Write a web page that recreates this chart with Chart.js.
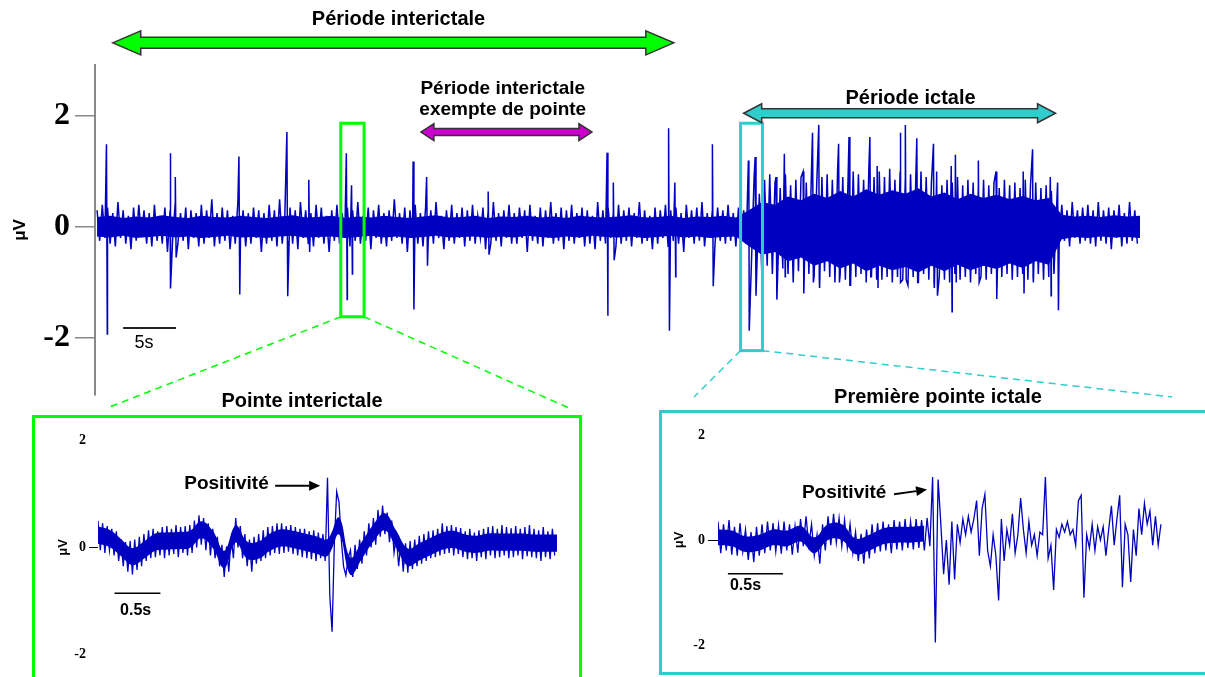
<!DOCTYPE html>
<html>
<head>
<meta charset="utf-8">
<script src="https://cdn.jsdelivr.net/npm/chart.js@4"></script>
<style>
  html, body { margin: 0; padding: 0; background: #fff; }
  #page { position: relative; width: 1205px; height: 677px; overflow: hidden; }
  canvas { position: absolute; }
  .box { position: absolute; box-sizing: border-box; border: 3px solid; }
</style>
</head>
<body>
<div id="page">
  <canvas id="mainChart" width="1205" height="677" style="left:0;top:0"></canvas>
  <div class="box" style="left:32px;top:415px;width:550px;height:275px;border-color:#00ff00"></div>
  <div class="box" style="left:659px;top:410px;width:560px;height:265px;border-color:#33cccc"></div>
  <canvas id="leftChart" width="541" height="259" style="left:36px;top:418px"></canvas>
  <canvas id="rightChart" width="539" height="260" style="left:663px;top:413px"></canvas>
</div>
<script>
const SANS = '"Liberation Sans", Arial, sans-serif';
const SERIF = '"Liberation Serif", "Times New Roman", serif';
const TRACE = '#0000c0';

// tracé principal : une valeur toutes les 0,25 s (µV), 0 à 100 s
const mainStep = 0.25;
const mainTrace = [
  0.3,-0.25,0.4,-0.2,0.35,-0.3,0.25,-0.35,0.45,-0.2,0.3,-0.3,0.2,-0.4,0.35,-0.25,0.4,-0.15,0.3,-0.3,
  0.25,-0.35,0.4,-0.25,0.2,-0.3,0.35,-0.45,0.3,-0.2,0.45,-0.3,0.25,-0.25,0.35,-0.4,0.3,-0.2,0.25,-0.35,
  0.4,-0.3,0.3,-0.2,0.5,-0.35,0.25,-0.3,0.35,-0.25,0.3,-0.4,0.2,-0.3,0.45,-0.2,0.3,-0.35,0.25,-0.3,
  0.35,-0.2,0.3,-0.45,0.25,-0.3,0.4,-0.25,0.3,-0.35,0.5,-0.3,0.2,-0.25,0.35,-0.3,0.3,-0.4,0.45,-0.2,
  0.3,-0.3,0.25,-0.35,0.4,-0.2,0.35,-0.3,0.2,-0.45,0.3,-0.25,0.4,-0.3,0.25,-0.2,0.35,-0.35,0.3,-0.25,
  0.45,-0.3,0.2,-0.25,0.35,-0.4,0.3,-0.2,0.4,-0.3,0.25,-0.35,0.3,-0.25,0.5,-0.2,0.25,-0.3,0.35,-0.45,
  0.3,-0.2,0.4,-0.3,0.25,-0.35,0.35,-0.25,0.3,-0.3,0.45,-0.2,0.2,-0.4,0.3,-0.25,0.4,-0.3,0.25,-0.2,
  0.35,-0.35,0.3,-0.25,0.4,-0.3,0.2,-0.2,0.35,-0.4,0.3,-0.3,0.45,-0.25,0.25,-0.35,0.3,-0.2,0.4,-0.3,
  0.25,-0.3,0.35,-0.2,0.3,-0.45,0.4,-0.25,0.2,-0.3,0.35,-0.35,0.3,-0.2,0.45,-0.3,0.25,-0.25,0.35,-0.4,
  0.3,-0.25,0.4,-0.3,0.25,-0.2,0.35,-0.35,0.3,-0.3,0.2,-0.4,0.45,-0.25,0.3,-0.3,0.35,-0.2,0.25,-0.35,
  0.4,-0.3,0.3,-0.25,0.35,-0.35,0.25,-0.2,0.45,-0.3,0.3,-0.25,0.2,-0.4,0.35,-0.3,0.3,-0.2,0.4,-0.35,
  0.3,-0.25,0.35,-0.3,0.25,-0.45,0.4,-0.2,0.3,-0.3,0.35,-0.25,0.45,-0.35,0.25,-0.2,0.3,-0.3,0.35,-0.25,
  0.3,-0.3,0.4,-0.25,0.25,-0.35,0.35,-0.2,0.3,-0.3,0.7,-0.6,0.9,-0.8,0.6,-0.9,0.85,-0.7,0.95,-0.85,
  0.8,-0.9,0.7,-0.75,0.95,-0.85,0.75,-1.0,0.85,-0.8,0.9,-0.95,0.8,-0.85,1.0,-0.9,0.75,-0.95,0.9,-0.8,
  0.95,-0.9,0.85,-1.0,1.0,-0.85,0.9,-0.95,0.8,-1.05,1.0,-0.9,0.95,-0.85,0.85,-1.0,1.05,-0.9,0.9,-0.95,
  1.0,-0.95,0.9,-0.9,1.05,-1.0,0.85,-0.9,1.0,-0.95,0.9,-1.05,0.95,-0.9,0.85,-1.0,1.0,-0.85,0.9,-0.95,
  0.8,-1.0,0.9,-0.9,0.75,-0.95,0.85,-1.0,0.8,-0.85,0.9,-0.95,0.75,-0.9,0.85,-1.0,0.8,-0.85,0.7,-0.9,
  0.85,-0.95,0.75,-0.85,0.8,-1.0,0.7,-0.9,0.85,-0.85,0.75,-0.95,0.8,-0.9,0.7,-0.85,0.85,-0.95,0.75,-0.9,
  0.8,-0.85,0.7,-0.95,0.75,-0.9,0.65,-0.85,0.35,-0.3,0.4,-0.25,0.3,-0.35,0.45,-0.2,0.3,-0.3,0.35,-0.25,
  0.4,-0.3,0.3,-0.35,0.45,-0.25,0.3,-0.3,0.35,-0.4,0.3,-0.2,0.4,-0.35,0.25,-0.3,0.45,-0.25,0.3,-0.3
];

// pointes : [temps (s), sommet, creux]
const mainSpikes = [
  [0.9, 1.49, -1.93], [7.0, 1.33, -1.11], [7.5, 0.9, -0.55], [13.6, 1.27, -1.22],
  [18.2, 1.71, -1.25], [20.3, 0.85, -0.45], [23.9, 1.33, -1.31], [24.4, 0.75, -0.85],
  [30.3, 1.18, -1.49], [31.6, 0.9, -0.7], [37.5, 0.64, -0.5], [48.9, 1.34, -1.6],
  [49.5, 0.8, -0.6], [54.8, 1.78, -1.87], [55.4, 0.8, -0.9], [59.0, 1.49, -1.07],
  [62.45, 1.2, -1.87], [63.1, 1.26, -1.24], [65.1, 0.9, -1.31], [65.9, 1.32, -0.9],
  [67.7, 1.0, -1.2], [68.6, 1.7, -1.0], [69.2, 1.84, -1.1], [71.1, 1.5, -1.0],
  [72.1, 1.62, -1.05], [74.1, 1.62, -0.9], [74.8, 1.1, -1.1], [77.0, 1.7, -1.0],
  [77.5, 1.84, -0.95], [78.6, 1.6, -1.0], [80.2, 1.5, -1.1], [80.5, 1.0, -1.24],
  [81.9, 1.1, -1.53], [82.3, 1.3, -1.0], [84.5, 1.2, -1.0], [86.2, 1.0, -1.3],
  [88.8, 1.0, -1.2], [89.7, 1.4, -1.0], [91.4, 0.9, -1.24], [92.1, 0.8, -1.5]
];

// enveloppe du coeur dense du tracé principal, toutes les 1,25 s
const mainCoreStep = 1.25;
const mainCoreTop = [
  0.18,0.2,0.16,0.19,0.17,0.21,0.18,0.16,0.2,0.18,
  0.17,0.2,0.18,0.16,0.19,0.21,0.17,0.18,0.2,0.16,
  0.19,0.17,0.2,0.18,0.16,0.19,0.21,0.17,0.18,0.2,
  0.16,0.19,0.18,0.2,0.17,0.19,0.16,0.2,0.18,0.17,
  0.19,0.21,0.17,0.18,0.2,0.16,0.19,0.18,0.2,0.17,
  0.3,0.45,0.4,0.55,0.48,0.6,0.52,0.65,0.55,0.68,0.58,0.66,
  0.6,0.7,0.55,0.62,0.5,0.6,0.52,0.58,0.5,0.56,0.48,0.52,
  0.22,0.19,0.2,0.18,0.21,0.19,0.2
];
const mainCoreBottom = [
  -0.17,-0.19,-0.16,-0.2,-0.18,-0.16,-0.19,-0.17,-0.2,-0.18,
  -0.16,-0.19,-0.18,-0.2,-0.17,-0.16,-0.19,-0.18,-0.17,-0.2,
  -0.18,-0.16,-0.19,-0.17,-0.2,-0.18,-0.16,-0.19,-0.18,-0.17,
  -0.2,-0.17,-0.19,-0.16,-0.18,-0.2,-0.17,-0.19,-0.16,-0.18,
  -0.19,-0.17,-0.2,-0.18,-0.16,-0.19,-0.17,-0.2,-0.18,-0.17,
  -0.35,-0.5,-0.45,-0.62,-0.55,-0.7,-0.62,-0.75,-0.66,-0.8,-0.7,-0.78,
  -0.72,-0.82,-0.7,-0.8,-0.68,-0.78,-0.7,-0.76,-0.66,-0.74,-0.62,-0.68,
  -0.22,-0.18,-0.2,-0.17,-0.19,-0.18,-0.2
];

// encart gauche "Pointe interictale" : 0,025 s par valeur, 0 à 5 s
const leftStep = 0.025;
const leftTrace = [
  0.5,-0.05,0.45,-0.1,0.4,-0.05,0.35,-0.15,0.3,-0.25,
  0.15,-0.35,0.1,-0.45,0.12,-0.5,0.15,-0.42,0.2,-0.35,
  0.25,-0.25,0.32,-0.2,0.35,-0.18,0.3,-0.15,0.38,-0.2,
  0.4,-0.15,0.35,-0.12,0.42,-0.18,0.38,-0.1,0.4,-0.15,
  0.42,-0.1,0.5,0.0,0.6,0.05,0.55,-0.05,0.45,-0.15,
  0.35,-0.2,0.2,-0.35,0.05,-0.55,0.02,-0.45,0.2,-0.2,
  0.55,0.0,0.4,-0.2,0.25,-0.35,0.15,-0.45,0.2,-0.3,
  0.25,-0.25,0.32,-0.2,0.38,-0.15,0.4,-0.1,0.45,-0.12,
  0.45,-0.1,0.4,-0.08,0.42,-0.12,0.38,-0.15,0.35,-0.18,
  0.35,-0.2,0.3,-0.22,0.32,-0.25,0.28,-0.2,0.25,-0.25,
  1.3,-0.9,-1.57,0.1,1.04,0.85,0.15,-0.35,-0.52,-0.2,
  -0.05,-0.55,0.05,-0.4,0.15,-0.3,0.3,-0.15,0.45,0.0,
  0.55,0.05,0.7,0.2,0.78,0.25,0.65,0.1,0.5,-0.1,
  0.2,-0.35,0.1,-0.45,0.08,-0.47,0.12,-0.4,0.15,-0.35,
  0.22,-0.3,0.25,-0.25,0.3,-0.2,0.32,-0.18,0.35,-0.15,
  0.45,-0.12,0.4,-0.1,0.42,-0.15,0.38,-0.12,0.36,-0.18,
  0.3,-0.22,0.35,-0.2,0.28,-0.25,0.32,-0.18,0.35,-0.22,
  0.38,-0.15,0.4,-0.2,0.35,-0.18,0.42,-0.15,0.38,-0.2,
  0.36,-0.18,0.4,-0.15,0.35,-0.22,0.38,-0.16,0.42,-0.18,
  0.35,-0.2,0.32,-0.25,0.38,-0.18,0.3,-0.22,0.35,-0.15
];
const leftCoreStep = 0.125;
const leftCoreTop = [
  0.39,0.33,0.16,-0.01,0.11,0.26,0.28,0.29,0.31,0.49,0.31,-0.06,0.41,0.11,0.11,0.26,0.34,0.31,0.26,0.21,
  0.16,0.56,-0.19,0.11,0.43,0.64,0.31,-0.02,0.08,0.18,0.28,0.31,0.24,0.22,0.26,0.26,0.26,0.26,0.24,0.24,0.24
];
const leftCoreBottom = [
  0.07,0.01,-0.16,-0.33,-0.21,-0.06,-0.04,-0.03,-0.01,0.17,-0.01,-0.38,0.09,-0.21,-0.21,-0.06,0.02,-0.01,-0.06,-0.11,
  -0.16,0.24,-0.51,-0.21,0.11,0.32,-0.01,-0.34,-0.24,-0.14,-0.04,-0.01,-0.08,-0.1,-0.06,-0.06,-0.06,-0.06,-0.08,-0.08,-0.08
];

// encart droit "Première pointe ictale" : 0,025 s par valeur
const rightStep = 0.025;
const rightTrace = [
  0.35,-0.25,0.3,-0.2,0.38,-0.28,0.25,-0.3,0.32,-0.22,
  0.2,-0.38,0.15,-0.42,0.25,-0.3,0.3,-0.25,0.35,-0.2,
  0.32,-0.22,0.28,-0.26,0.35,-0.2,0.3,-0.28,0.26,-0.24,
  0.4,-0.12,0.45,-0.1,0.3,-0.3,0.1,-0.45,0.3,-0.2,
  0.45,-0.1,0.5,-0.05,0.42,-0.12,0.38,-0.15,0.3,-0.25,
  0.15,-0.4,0.12,-0.45,0.2,-0.35,0.3,-0.25,0.32,-0.22,
  0.35,-0.2,0.3,-0.25,0.38,-0.18,0.35,-0.2,0.4,-0.15,
  0.35,-0.18,0.4,-0.15,0.38,-0.2,0.42,-0.12,1.2,-1.95,
  1.15,0.3,-0.65,0.0,-0.85,0.35,-0.75,0.3,-0.05,0.4,
  0.1,0.45,0.15,0.4,0.75,-0.3,0.6,0.87,-0.2,-0.5,
  0.1,-0.3,-1.15,0.4,-0.4,0.2,-0.1,0.5,-0.25,0.1,
  0.8,0.2,-0.25,0.35,-0.1,0.1,-0.3,0.15,0.1,1.2,
  -0.35,-0.1,-0.95,0.2,0.05,0.3,0.15,0.35,0.1,0.2,
  -0.1,0.75,0.85,-1.1,0.1,-0.15,0.3,-0.2,0.25,0.0,
  0.25,-0.3,0.2,0.65,-0.1,0.4,0.85,-0.9,0.3,0.1,
  -0.8,0.2,-0.3,0.6,0.1,0.7,0.3,0.55,-0.1,0.45,
  -0.1,0.3
];
const rightCoreStep = 0.125;
const rightCoreTop = [0.2,0.18,0.07,0.1,0.2,0.18,0.27,0.05,0.3,0.3,0.03,0.1,0.22,0.25,0.25,0.27];
const rightCoreBottom = [-0.1,-0.12,-0.23,-0.2,-0.1,-0.12,-0.03,-0.25,0.0,0.0,-0.27,-0.2,-0.08,-0.05,-0.05,-0.03];

const mainTicks = [-2, 0, 2];
const insetTicks = [-2, 0, 2];

function toPoints(values, step) {
  return values.map((v, i) => ({ x: i * step, y: v }));
}

const mainPoints = toPoints(mainTrace, mainStep);
mainSpikes.forEach(([t, up, down]) => {
  mainPoints.push({ x: t, y: up }, { x: t + 0.08, y: down });
});
mainPoints.sort((a, b) => a.x - b.x);

function traceDatasets(points, coreTop, coreBottom, coreStep, smooth, width) {
  const clear = 'rgba(0,0,0,0)';
  return [
    { data: points, borderColor: TRACE, borderWidth: width, pointRadius: 0, tension: 0, fill: false },
    { data: toPoints(coreTop, coreStep), borderColor: clear, borderWidth: 1, pointRadius: 0,
      tension: smooth, fill: false },
    { data: toPoints(coreBottom, coreStep), borderColor: clear, borderWidth: 1, pointRadius: 0,
      tension: smooth, fill: '-1', backgroundColor: TRACE }
  ];
}

function doubleArrow(ctx, x1, x2, yc, body, head, headW, fill) {
  const hb = body / 2, hh = head / 2;
  ctx.beginPath();
  ctx.moveTo(x1, yc);
  ctx.lineTo(x1 + headW, yc - hh);
  ctx.lineTo(x1 + headW, yc - hb);
  ctx.lineTo(x2 - headW, yc - hb);
  ctx.lineTo(x2 - headW, yc - hh);
  ctx.lineTo(x2, yc);
  ctx.lineTo(x2 - headW, yc + hh);
  ctx.lineTo(x2 - headW, yc + hb);
  ctx.lineTo(x1 + headW, yc + hb);
  ctx.lineTo(x1 + headW, yc + hh);
  ctx.closePath();
  ctx.fillStyle = fill;
  ctx.fill();
  ctx.strokeStyle = '#333';
  ctx.lineWidth = 1.5;
  ctx.stroke();
}

function pointerArrow(ctx, x1, y1, x2, y2) {
  const a = Math.atan2(y2 - y1, x2 - x1);
  const len = 11, half = 5;
  ctx.strokeStyle = '#000';
  ctx.fillStyle = '#000';
  ctx.lineWidth = 2;
  ctx.beginPath();
  ctx.moveTo(x1, y1);
  ctx.lineTo(x2 - len * Math.cos(a), y2 - len * Math.sin(a));
  ctx.stroke();
  ctx.beginPath();
  ctx.moveTo(x2, y2);
  ctx.lineTo(x2 - len * Math.cos(a) + half * Math.sin(a), y2 - len * Math.sin(a) - half * Math.cos(a));
  ctx.lineTo(x2 - len * Math.cos(a) - half * Math.sin(a), y2 - len * Math.sin(a) + half * Math.cos(a));
  ctx.closePath();
  ctx.fill();
}

// annotations du tracé principal (coordonnées en s / µV)
const mainOverlay = {
  id: 'mainOverlay',
  afterDraw(chart) {
    const { ctx } = chart;
    const px = (t) => chart.scales.x.getPixelForValue(t);
    const py = (v) => chart.scales.y.getPixelForValue(v);
    ctx.save();

    // cadres de zoom + pointillés vers les encarts
    const boxes = [
      { t0: 23.37, t1: 25.6, top: 1.87, bottom: -1.62, color: '#00ff00', to: [[107, 408], [569, 408]] },
      { t0: 61.7, t1: 63.8, top: 1.87, bottom: -2.23, color: '#33cccc', to: [[694, 397], [1172, 397]] }
    ];
    boxes.forEach((b) => {
      ctx.strokeStyle = b.color;
      ctx.lineWidth = 3;
      ctx.setLineDash([]);
      ctx.strokeRect(px(b.t0), py(b.top), px(b.t1) - px(b.t0), py(b.bottom) - py(b.top));
      ctx.lineWidth = 1.5;
      ctx.setLineDash([7, 5]);
      ctx.beginPath();
      ctx.moveTo(px(b.t0), py(b.bottom));
      ctx.lineTo(b.to[0][0], b.to[0][1]);
      ctx.moveTo(px(b.t1), py(b.bottom));
      ctx.lineTo(b.to[1][0], b.to[1][1]);
      ctx.stroke();
    });
    ctx.setLineDash([]);

    // barre d'échelle 5 s
    ctx.strokeStyle = '#222';
    ctx.lineWidth = 2;
    ctx.beginPath();
    ctx.moveTo(px(2.5), py(-1.82));
    ctx.lineTo(px(7.57), py(-1.82));
    ctx.stroke();
    ctx.fillStyle = '#000';
    ctx.font = '18px ' + SANS;
    ctx.textAlign = 'center';
    ctx.textBaseline = 'middle';
    ctx.fillText('5s', px(4.5), py(-2.09));

    // périodes
    const periods = [
      { from: 1.5, to: 55.3, level: 3.32, body: 11, head: 24, headW: 28, fill: '#00ff00',
        textT: 28.9, size: 20, lines: [['Période interictale', 3.64]] },
      { from: 31.05, to: 47.45, level: 1.71, body: 7, head: 17, headW: 13, fill: '#cc00cc',
        textT: 38.9, size: 19, lines: [['Période interictale', 2.4], ['exempte de pointe', 2.02]] },
      { from: 62.0, to: 91.9, level: 2.05, body: 9, head: 19, headW: 18, fill: '#33cccc',
        textT: 78.0, size: 20, lines: [['Période ictale', 2.22]] }
    ];
    periods.forEach((p) => {
      doubleArrow(ctx, px(p.from), px(p.to), py(p.level), p.body, p.head, p.headW, p.fill);
      ctx.fillStyle = '#000';
      ctx.font = 'bold ' + p.size + 'px ' + SANS;
      ctx.textAlign = 'center';
      ctx.textBaseline = 'alphabetic';
      p.lines.forEach(([txt, v]) => ctx.fillText(txt, px(p.textT), py(v)));
    });

    // titres des encarts
    ctx.font = 'bold 20px ' + SANS;
    ctx.fillText('Pointe interictale', 302, 407);
    ctx.fillText('Première pointe ictale', 938, 403);
    ctx.restore();
  }
};

function insetOverlay(bar, pos) {
  return {
    id: 'insetOverlay',
    afterDraw(chart) {
      const { ctx } = chart;
      const px = (t) => chart.scales.x.getPixelForValue(t);
      const py = (v) => chart.scales.y.getPixelForValue(v);
      ctx.save();
      ctx.strokeStyle = '#000';
      ctx.lineWidth = 1.5;
      ctx.beginPath();
      ctx.moveTo(px(bar.t0), py(bar.v));
      ctx.lineTo(px(bar.t1), py(bar.v));
      ctx.stroke();
      ctx.fillStyle = '#000';
      ctx.font = 'bold 16px ' + SANS;
      ctx.textAlign = 'center';
      ctx.textBaseline = 'middle';
      ctx.fillText('0.5s', px(bar.textT), py(bar.textV));
      ctx.font = 'bold 19px ' + SANS;
      ctx.textAlign = 'right';
      ctx.fillText('Positivité', px(pos.textT), py(pos.textV));
      pointerArrow(ctx, px(pos.from[0]), py(pos.from[1]), px(pos.to[0]), py(pos.to[1]));
      ctx.restore();
    }
  };
}

function makeChart(id, datasets, cfg) {
  return new Chart(document.getElementById(id), {
    type: 'line',
    data: { datasets: datasets },
    options: {
      responsive: false,
      animation: false,
      devicePixelRatio: 1,
      layout: { padding: cfg.padding },
      plugins: { legend: { display: false }, tooltip: { enabled: false } },
      scales: {
        x: { type: 'linear', display: false, min: cfg.xMin, max: cfg.xMax },
        y: {
          min: cfg.yMin,
          max: cfg.yMax,
          afterFit: (s) => { s.width = cfg.axisWidth; },
          afterBuildTicks: (s) => { s.ticks = cfg.ticks.map((v) => ({ value: v })); },
          border: cfg.border,
          grid: {
            drawOnChartArea: false,
            tickLength: cfg.tickLength,
            color: cfg.tickColor,
            lineWidth: cfg.tickWidth
          },
          ticks: { font: cfg.tickFont, color: '#000', padding: cfg.tickPadding },
          title: {
            display: true,
            text: 'μV',
            color: '#000',
            font: cfg.titleFont,
            padding: { top: cfg.titlePad, bottom: 0 }
          }
        }
      }
    },
    plugins: [cfg.overlay]
  });
}

const zeroOnly = (c) => (c.tick && c.tick.value === 0 ? '#000' : 'rgba(0,0,0,0)');

makeChart('mainChart', traceDatasets(mainPoints, mainCoreTop, mainCoreBottom, mainCoreStep, 0, 1.5), {
  padding: { left: 0, right: 65, top: 65, bottom: 282 },
  xMin: -0.2, xMax: 100, yMin: -3.03, yMax: 2.92,
  axisWidth: 95, ticks: mainTicks,
  border: { display: true, color: '#888', width: 2 },
  tickLength: 20, tickColor: '#888', tickWidth: 1.5,
  tickFont: { family: SERIF, size: 32, weight: 'bold' }, tickPadding: 5,
  titleFont: { family: SANS, size: 17, weight: 'bold' }, titlePad: 10,
  overlay: mainOverlay
});

makeChart('leftChart', traceDatasets(toPoints(leftTrace, leftStep), leftCoreTop, leftCoreBottom, leftCoreStep, 0.4, 1.3), {
  padding: { left: 0, right: 20, top: 3.5, bottom: 2.5 },
  xMin: 0, xMax: 5, yMin: -2.2, yMax: 2.2,
  axisWidth: 62, ticks: insetTicks,
  border: { display: false },
  tickLength: 9, tickColor: zeroOnly, tickWidth: 1,
  tickFont: { family: SERIF, size: 14, weight: 'bold' }, tickPadding: 3,
  titleFont: { family: SANS, size: 13, weight: 'bold' }, titlePad: 20,
  overlay: insetOverlay(
    { t0: 0.18, t1: 0.68, v: -0.85, textT: 0.41, textV: -1.17 },
    { textT: 1.86, textV: 1.18, from: [1.93, 1.15], to: [2.42, 1.15] }
  )
});

makeChart('rightChart', traceDatasets(toPoints(rightTrace, rightStep), rightCoreTop, rightCoreBottom, rightCoreStep, 0.4, 1.3), {
  padding: { left: 0, right: 35, top: 9.4, bottom: 17.4 },
  xMin: 0, xMax: 4.08, yMin: -2.2, yMax: 2.2,
  axisWidth: 55, ticks: insetTicks,
  border: { display: false },
  tickLength: 10, tickColor: zeroOnly, tickWidth: 1,
  tickFont: { family: SERIF, size: 14, weight: 'bold' }, tickPadding: 3,
  titleFont: { family: SANS, size: 13, weight: 'bold' }, titlePad: 9,
  overlay: insetOverlay(
    { t0: 0.09, t1: 0.59, v: -0.64, textT: 0.25, textV: -0.87 },
    { textT: 1.53, textV: 0.89, from: [1.6, 0.87], to: [1.9, 0.96] }
  )
});
</script>
</body>
</html>
